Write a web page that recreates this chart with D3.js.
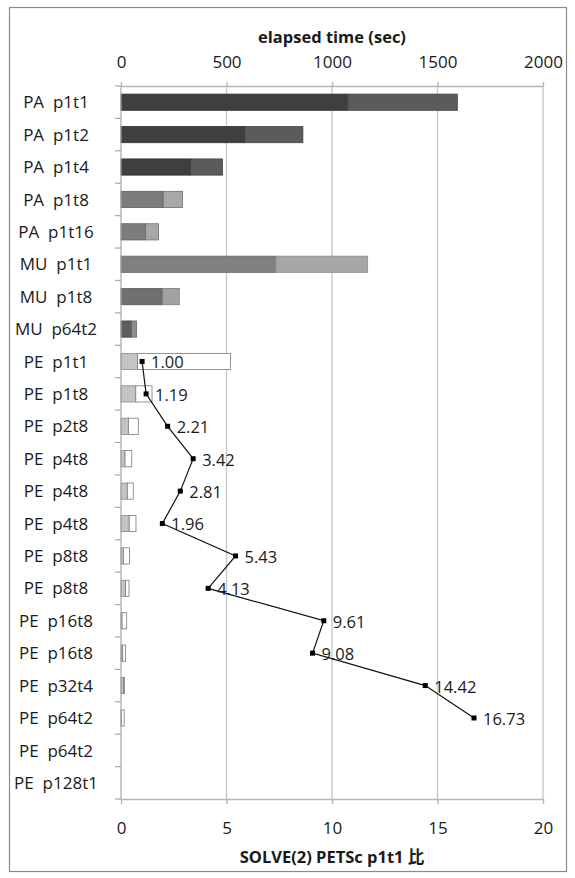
<!DOCTYPE html>
<html>
<head>
<meta charset="utf-8">
<script src="https://cdn.jsdelivr.net/npm/d3@7"></script>
<style>
  html, body { margin: 0; padding: 0; background: #fff; }
  svg text { font-family: "Open Sans", "Noto Sans", "Noto Sans CJK JP", sans-serif; fill: #1a1a1a; }
</style>
</head>
<body>
<svg id="chart" width="575" height="878"></svg>
<script>
// Runs (one bar per run), top to bottom
const categories = [
  "PA  p1t1", "PA  p1t2", "PA  p1t4", "PA  p1t8", "PA  p1t16",
  "MU  p1t1", "MU  p1t8", "MU  p64t2",
  "PE  p1t1", "PE  p1t8", "PE  p2t8", "PE  p4t8", "PE  p4t8", "PE  p4t8",
  "PE  p8t8", "PE  p8t8", "PE  p16t8", "PE  p16t8", "PE  p32t4",
  "PE  p64t2", "PE  p64t2", "PE  p128t1"
];

// Elapsed time split into two stacked parts (sec)
const firstPart  = [1075, 587, 330, 200, 117, 734, 197, 50, 79, 70, 35, 19, 30, 39, 11, 22, 5, 8, 12, 2, 0, 0];
const secondPart = [519, 275, 151, 92, 61, 435, 79, 24, 440, 77, 47, 32, 28, 32, 29, 16, 22, 14, 4, 13, 0, 0];

// Speed-up relative to PETSc p1t1 (null where not measured)
const speedup = [null, null, null, null, null, null, null, null,
  1.00, 1.19, 2.21, 3.42, 2.81, 1.96, 5.43, 4.13, 9.61, 9.08, 14.42, 16.73, null, null];

const timeTicks = [0, 500, 1000, 1500, 2000];
const ratioTicks = [0, 5, 10, 15, 20];

const svg = d3.select("#chart");
const plotLeft = 121, plotRight = 543, plotTop = 86, plotBottom = 799;

// outer chart frame
svg.append("rect")
  .attr("x", 9.5).attr("y", 7.5).attr("width", 557).attr("height", 864)
  .attr("fill", "none").attr("stroke", "#8a8a8a").attr("stroke-width", 1.2);

const xTime = d3.scaleLinear().domain([0, 2000]).range([plotLeft, plotRight]);
const xRatio = d3.scaleLinear().domain([0, 20]).range([plotLeft, plotRight]);
const y = d3.scaleBand().domain(d3.range(categories.length))
  .range([plotTop, plotBottom]).paddingInner(0.5).paddingOuter(0.25);
const step = y.step();

// vertical gridlines
svg.append("g").selectAll("line").data(timeTicks.slice(1)).join("line")
  .attr("x1", d => xTime(d)).attr("x2", d => xTime(d))
  .attr("y1", plotTop).attr("y2", plotBottom)
  .attr("stroke", "#c9c9c9").attr("stroke-width", 1.4);

// row shading per run group
function shade(i) {
  if (i <= 2) return { a: "#3f3f3f", b: "#5b5b5b", sa: "#2e2e2e", sb: "#444" };
  if (i <= 4) return { a: "#7c7c7c", b: "#a8a8a8", sa: "#5c5c5c", sb: "#6e6e6e" };
  if (i === 5) return { a: "#808080", b: "#a6a6a6", sa: "#666", sb: "#8a8a8a" };
  if (i === 6) return { a: "#707070", b: "#a2a2a2", sa: "#555", sb: "#7a7a7a" };
  if (i === 7) return { a: "#5e5e5e", b: "#8c8c8c", sa: "#444", sb: "#6a6a6a" };
  return { a: "#c4c4c4", b: "#ffffff", sa: "#8a8a8a", sb: "#7a7a7a" };
}

const rows = categories.map((c, i) => ({ i, a: firstPart[i], b: secondPart[i] }));
const bars = svg.append("g");
bars.selectAll("rect.a").data(rows.filter(r => r.a > 0)).join("rect")
  .attr("class", "a")
  .attr("x", xTime(0)).attr("y", d => y(d.i))
  .attr("width", d => xTime(d.a) - xTime(0)).attr("height", y.bandwidth())
  .attr("fill", d => shade(d.i).a).attr("stroke", d => shade(d.i).sa).attr("stroke-width", 0.8);
bars.selectAll("rect.b").data(rows.filter(r => r.b > 0)).join("rect")
  .attr("class", "b")
  .attr("x", d => xTime(d.a)).attr("y", d => y(d.i))
  .attr("width", d => xTime(d.a + d.b) - xTime(d.a)).attr("height", y.bandwidth())
  .attr("fill", d => shade(d.i).b).attr("stroke", d => shade(d.i).sb).attr("stroke-width", 0.8);

// category axis
const catAxis = d3.axisLeft(y).tickSize(0).tickFormat(i => categories[i]);
const gCat = svg.append("g").attr("transform", `translate(${plotLeft},0)`).call(catAxis);
gCat.select(".domain").remove();
gCat.selectAll("text").attr("x", -65).attr("text-anchor", "middle")
  .attr("font-size", 17).attr("dy", "0.36em").style("white-space", "pre");
svg.append("line").attr("x1", plotLeft).attr("x2", plotLeft).attr("y1", plotTop).attr("y2", plotBottom)
  .attr("stroke", "#a6a6a6").attr("stroke-width", 1.2);
svg.append("g").selectAll("line").data(d3.range(categories.length + 1)).join("line")
  .attr("x1", plotLeft - 6).attr("x2", plotLeft)
  .attr("y1", k => plotTop + k * step).attr("y2", k => plotTop + k * step)
  .attr("stroke", "#a6a6a6").attr("stroke-width", 1.2);

// top axis: elapsed time
const gTop = svg.append("g").attr("transform", `translate(0,${plotTop})`)
  .call(d3.axisTop(xTime).tickValues(timeTicks).tickFormat(d3.format("d"))
    .tickSize(4).tickPadding(14).tickSizeOuter(0));
gTop.select(".domain").attr("stroke", "#b5b5b5").attr("stroke-width", 1.4);
gTop.selectAll(".tick line").attr("stroke", "#b5b5b5").attr("stroke-width", 1.4);
gTop.selectAll("text").attr("font-size", 17);

svg.append("text").attr("x", (plotLeft + plotRight) / 2).attr("y", 43)
  .attr("text-anchor", "middle").attr("font-weight", "bold").attr("font-size", 16.5)
  .text("elapsed time (sec)");

// bottom axis: speed-up ratio
const gBot = svg.append("g").attr("transform", `translate(0,${plotBottom})`)
  .call(d3.axisBottom(xRatio).tickValues(ratioTicks).tickSize(5).tickPadding(18).tickSizeOuter(0));
gBot.select(".domain").attr("stroke", "#b5b5b5").attr("stroke-width", 1.4);
gBot.selectAll(".tick line").attr("stroke", "#b5b5b5").attr("stroke-width", 1.4);
gBot.selectAll("text").attr("font-size", 17);

svg.append("text").attr("x", (plotLeft + plotRight) / 2).attr("y", 863)
  .attr("text-anchor", "middle").attr("font-weight", "bold").attr("font-size", 16.5)
  .text("SOLVE(2) PETSc p1t1 比");

// speed-up line with square markers and value labels
const pts = speedup.map((v, i) => ({ v, i })).filter(d => d.v !== null);
const cy = d => y(d.i) + y.bandwidth() / 2;
svg.append("path").datum(pts)
  .attr("d", d3.line().x(d => xRatio(d.v)).y(cy))
  .attr("fill", "none").attr("stroke", "#111").attr("stroke-width", 1.2);
svg.append("g").selectAll("rect").data(pts).join("rect")
  .attr("x", d => xRatio(d.v) - 2.5).attr("y", d => cy(d) - 2.5)
  .attr("width", 5).attr("height", 5).attr("fill", "#000");
svg.append("g").selectAll("text").data(pts).join("text")
  .attr("x", d => xRatio(d.v) + 9).attr("y", d => cy(d) + 1)
  .attr("dy", "0.36em").attr("font-size", 16.5)
  .text(d => d.v.toFixed(2));
</script>
</body>
</html>
